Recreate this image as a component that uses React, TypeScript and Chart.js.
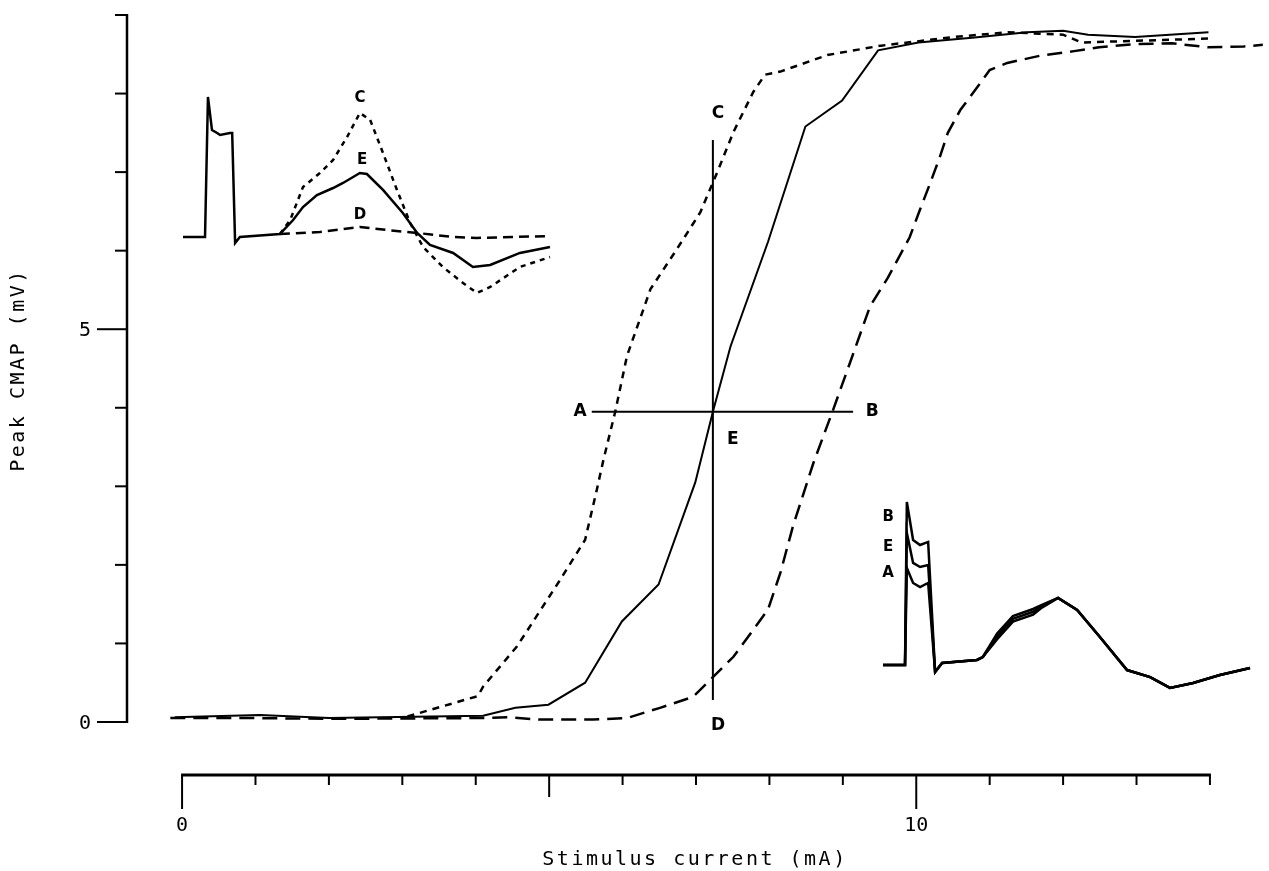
import React, { useEffect, useRef } from "react";
import { Chart, registerables } from "chart.js";

Chart.register(...registerables);

// ---------- Main recruitment curves (x: stimulus current mA, y: peak CMAP mV) ----------
const E_X = [-0.1, 1.06, 2.0, 4.1, 4.54, 4.99, 5.49, 5.99, 6.49, 6.99, 7.23, 7.47, 7.98, 8.49, 8.99, 9.48, 10.03, 10.76, 11.51, 12.0, 12.34, 12.98, 13.98];
const E_Y = [0.06, 0.09, 0.05, 0.08, 0.18, 0.22, 0.5, 1.28, 1.75, 3.05, 3.95, 4.78, 6.11, 7.58, 7.91, 8.55, 8.65, 8.71, 8.78, 8.8, 8.75, 8.72, 8.78];

const C_X = [3.07, 4.03, 4.1, 4.56, 5.15, 5.49, 5.65, 5.74, 5.9, 6.06, 6.38, 6.74, 7.06, 7.29, 7.51, 7.78, 7.94, 8.15, 8.79, 9.52, 10.52, 11.25, 12.0, 12.25, 13.98];
const C_Y = [0.07, 0.33, 0.45, 0.96, 1.81, 2.32, 2.96, 3.34, 3.95, 4.66, 5.51, 6.02, 6.49, 7.0, 7.51, 8.02, 8.24, 8.28, 8.49, 8.61, 8.72, 8.78, 8.75, 8.65, 8.7];

const D_X = [-0.16, 0.93, 2.02, 4.06, 4.43, 4.88, 5.6, 6.06, 6.51, 6.96, 7.23, 7.51, 7.98, 8.15, 8.32, 8.6, 8.87, 9.1, 9.37, 9.61, 9.91, 10.05, 10.19, 10.32, 10.43, 10.6, 10.83, 11.0, 11.24, 11.68, 12.15, 12.49, 12.98, 13.48, 13.97, 14.46, 14.72];
const D_Y = [0.05, 0.05, 0.04, 0.05, 0.06, 0.03, 0.03, 0.05, 0.18, 0.32, 0.57, 0.83, 1.43, 1.9, 2.49, 3.3, 3.98, 4.58, 5.29, 5.65, 6.17, 6.52, 6.86, 7.19, 7.5, 7.79, 8.08, 8.3, 8.39, 8.48, 8.54, 8.59, 8.63, 8.64, 8.59, 8.6, 8.62];

// crosshair through E
const VLINE_X = [7.23, 7.23];
const VLINE_Y = [7.41, 0.28];
const HLINE_X = [5.58, 9.14];
const HLINE_Y = [3.95, 3.95];

// axis ticks
const X_TICKS = [0, 1, 2, 3, 4, 5, 6, 7, 8, 9, 10, 11, 12, 13, 14];
const X_TICK_LABELS = ["0", "", "", "", "", "", "", "", "", "", "10", "", "", "", ""];
const Y_TICKS = [0, 1, 2, 3, 4, 5, 6, 7, 8, 9];
const Y_TICK_LABELS = ["0", "", "", "", "", "5", "", "", "", ""];

// ---------- Inset 1: waveforms at C, E, D (time ms, amplitude arb.) ----------
const IN1_E_T = [0, 0.6, 0.68, 0.79, 0.93, 1.01, 1.28, 1.34, 1.42, 1.55, 2.64, 3.0, 3.27, 3.65, 4.09, 4.36, 4.82, 5.01, 5.45, 5.99, 6.38, 6.73, 7.36, 7.9, 8.37, 9.18, 10.0];
const IN1_E_A = [0, 0, 10.0, 7.64, 7.43, 7.29, 7.43, 7.43, -0.43, 0, 0.21, 1.21, 2.14, 3.0, 3.5, 3.86, 4.57, 4.5, 3.36, 1.71, 0.29, -0.57, -1.14, -2.14, -2.0, -1.14, -0.71];
const IN1_C_T = [2.64, 2.92, 3.27, 3.73, 4.09, 4.47, 4.82, 5.1, 5.45, 5.83, 6.19, 6.54, 7.08, 7.63, 8.01, 8.37, 9.18, 10.0];
const IN1_C_A = [0.21, 1.21, 3.57, 4.57, 5.5, 7.14, 8.86, 8.36, 6.0, 3.36, 1.0, -0.71, -2.14, -3.29, -4.0, -3.57, -2.14, -1.43];
const IN1_D_T = [2.64, 3.73, 4.82, 5.56, 6.38, 7.36, 8.01, 10.0];
const IN1_D_A = [0.21, 0.36, 0.71, 0.5, 0.29, 0.0, -0.07, 0.07];

// ---------- Inset 2: waveforms at B, E, A ----------
const IN2_T = [0, 0.6, 0.65, 0.82, 1.01, 1.23, 1.42, 1.61, 2.56, 2.72, 3.11, 3.54, 4.09, 4.33, 4.77, 5.29, 5.91, 6.65, 7.28, 7.82, 8.45, 9.18, 10.0];
const IN2_B = [0, 0, 11.64, 8.93, 8.57, 8.79, -0.5, 0.14, 0.36, 0.57, 2.25, 3.5, 4.0, 4.3, 4.79, 3.93, 2.0, -0.36, -0.86, -1.64, -1.29, -0.71, -0.21];
const IN2_E = [0, 0, 9.43, 7.29, 7.0, 7.14, -0.5, 0.14, 0.36, 0.57, 2.05, 3.3, 3.8, 4.2, 4.79, 3.93, 2.0, -0.36, -0.86, -1.64, -1.29, -0.71, -0.21];
const IN2_A = [0, 0, 6.93, 5.86, 5.57, 5.86, -0.5, 0.14, 0.36, 0.57, 1.85, 3.1, 3.6, 4.1, 4.79, 3.93, 2.0, -0.36, -0.86, -1.64, -1.29, -0.71, -0.21];

// text labels
const MAIN_LABELS = [
  { t: "A", x: 5.42, y: 3.95 },
  { t: "B", x: 9.4, y: 3.95 },
  { t: "C", x: 7.3, y: 7.74 },
  { t: "D", x: 7.3, y: -0.04 },
  { t: "E", x: 7.5, y: 3.6 },
];
const IN1_LABELS = [
  { t: "C", x: 4.82, y: 9.93 },
  { t: "E", x: 4.88, y: 5.5 },
  { t: "D", x: 4.82, y: 1.57 },
];
const IN2_LABELS = [
  { t: "B", x: 0.14, y: 10.57 },
  { t: "E", x: 0.14, y: 8.43 },
  { t: "A", x: 0.14, y: 6.57 },
];

// ---------- layout ----------
const W = 1269;
const H = 871;
const PAD = { left: 127, top: 15, right: 4, bottom: 96 };
const AREA = { left: PAD.left, right: W - PAD.right, top: PAD.top, bottom: H - PAD.bottom };
function rangeFor(originPx: number, pxPerUnit: number, lo: number, hi: number, invert: boolean) {
  if (!invert) return { min: (lo - originPx) / pxPerUnit, max: (hi - originPx) / pxPerUnit };
  return { min: (originPx - hi) / pxPerUnit, max: (originPx - lo) / pxPerUnit };
}
const IN1X = rangeFor(183, 36.7, AREA.left, AREA.right, false);
const IN1Y = rangeFor(237, 14, AREA.top, AREA.bottom, true);
const IN2X = rangeFor(883, 36.7, AREA.left, AREA.right, false);
const IN2Y = rangeFor(665, 14, AREA.top, AREA.bottom, true);

const XMIN = -0.75;
const XMAX = 14.75;
const YMIN = -0.675;
const YMAX = 9;

const zip = (xs: number[], ys: number[]) => xs.map((x, i) => ({ x, y: ys[i] }));

const FONT_MONO = '"DejaVu Sans Mono", monospace';

const axesPlugin = {
  id: "paperAxes",
  afterDatasetsDraw(chart: any) {
    const ctx = chart.ctx as CanvasRenderingContext2D;
    const xs = chart.scales.x;
    const ys = chart.scales.y;
    ctx.save();
    ctx.strokeStyle = "#000";
    ctx.fillStyle = "#000";
    ctx.lineCap = "butt";

    // Y axis
    const yAxisX = xs.getPixelForValue(XMIN);
    ctx.lineWidth = 2.5;
    ctx.beginPath();
    ctx.moveTo(yAxisX, ys.getPixelForValue(0) + 1);
    ctx.lineTo(yAxisX, ys.getPixelForValue(9) - 1);
    ctx.stroke();
    ctx.lineWidth = 2;
    Y_TICKS.forEach((v, i) => {
      const py = ys.getPixelForValue(v);
      const len = Y_TICK_LABELS[i] ? 30 : 12;
      ctx.beginPath();
      ctx.moveTo(yAxisX, py);
      ctx.lineTo(yAxisX - len, py);
      ctx.stroke();
    });
    ctx.font = `20px ${FONT_MONO}`;
    ctx.textAlign = "center";
    ctx.textBaseline = "middle";
    Y_TICKS.forEach((v, i) => {
      if (Y_TICK_LABELS[i]) ctx.fillText(Y_TICK_LABELS[i], yAxisX - 42, ys.getPixelForValue(v) + 2);
    });

    // X axis
    const xAxisY = ys.getPixelForValue(YMIN);
    ctx.lineWidth = 3;
    ctx.beginPath();
    ctx.moveTo(xs.getPixelForValue(0) - 1, xAxisY);
    ctx.lineTo(xs.getPixelForValue(14) + 1, xAxisY);
    ctx.stroke();
    ctx.lineWidth = 2;
    X_TICKS.forEach((v, i) => {
      const px = xs.getPixelForValue(v);
      const len = X_TICK_LABELS[i] ? 34 : v === 5 ? 22 : 10;
      ctx.beginPath();
      ctx.moveTo(px, xAxisY);
      ctx.lineTo(px, xAxisY + len);
      ctx.stroke();
    });
    X_TICKS.forEach((v, i) => {
      if (X_TICK_LABELS[i]) ctx.fillText(X_TICK_LABELS[i], xs.getPixelForValue(v), xAxisY + 51);
    });

    // titles
    (ctx as any).letterSpacing = "2.5px";
    ctx.font = `20px ${FONT_MONO}`;
    ctx.fillText("Stimulus current (mA)", 695, 860);
    ctx.save();
    ctx.translate(19, 370);
    ctx.rotate(-Math.PI / 2);
    ctx.fillText("Peak CMAP (mV)", 0, 0);
    ctx.restore();
    (ctx as any).letterSpacing = "0px";

    // point labels
    ctx.font = `bold 17px "DejaVu Sans", sans-serif`;
    const drawLabels = (labels: { t: string; x: number; y: number }[], sx: any, sy: any) => {
      labels.forEach((l) => ctx.fillText(l.t, sx.getPixelForValue(l.x), sy.getPixelForValue(l.y)));
    };
    drawLabels(MAIN_LABELS, xs, ys);
    ctx.font = `bold 15px "DejaVu Sans", sans-serif`;
    drawLabels(IN1_LABELS, chart.scales.x2, chart.scales.y2);
    drawLabels(IN2_LABELS, chart.scales.x3, chart.scales.y3);
    ctx.restore();
  },
};

export default function App() {
  const ref = useRef<HTMLCanvasElement | null>(null);
  useEffect(() => {
    if (!ref.current) return;
    const line = (data: any[], extra: any) => ({
      data,
      showLine: true,
      borderColor: "#000",
      backgroundColor: "#000",
      pointRadius: 0,
      borderWidth: 2,
      tension: 0,
      fill: false,
      ...extra,
    });
    const chart = new Chart(ref.current, {
      type: "scatter",
      data: {
        datasets: [
          line(zip(E_X, E_Y), { label: "E", borderWidth: 2 }),
          line(zip(C_X, C_Y), { label: "C", borderDash: [7, 6], borderWidth: 2.5 }),
          line(zip(D_X, D_Y), { label: "D", borderDash: [15, 8], borderWidth: 2.5 }),
          line(zip(VLINE_X, VLINE_Y), { label: "CD", borderWidth: 2 }),
          line(zip(HLINE_X, HLINE_Y), { label: "AB", borderWidth: 2 }),
          line(zip(IN1_E_T, IN1_E_A), { label: "in1E", xAxisID: "x2", yAxisID: "y2", borderWidth: 2.5 }),
          line(zip(IN1_C_T, IN1_C_A), { label: "in1C", xAxisID: "x2", yAxisID: "y2", borderDash: [5, 5], borderWidth: 2.5 }),
          line(zip(IN1_D_T, IN1_D_A), { label: "in1D", xAxisID: "x2", yAxisID: "y2", borderDash: [10, 6], borderWidth: 2.5 }),
          line(zip(IN2_T, IN2_B), { label: "in2B", xAxisID: "x3", yAxisID: "y3", borderWidth: 2.5 }),
          line(zip(IN2_T, IN2_E), { label: "in2E", xAxisID: "x3", yAxisID: "y3", borderWidth: 2.5 }),
          line(zip(IN2_T, IN2_A), { label: "in2A", xAxisID: "x3", yAxisID: "y3", borderWidth: 2.5 }),
        ],
      },
      options: {
        animation: false,
        responsive: false,
        maintainAspectRatio: false,
        layout: { padding: PAD },
        plugins: { legend: { display: false }, tooltip: { enabled: false } },
        scales: {
          x: { type: "linear", display: false, min: XMIN, max: XMAX },
          y: { type: "linear", display: false, min: YMIN, max: YMAX },
          x2: { type: "linear", display: false, min: IN1X.min, max: IN1X.max },
          y2: { type: "linear", display: false, min: IN1Y.min, max: IN1Y.max },
          x3: { type: "linear", display: false, min: IN2X.min, max: IN2X.max },
          y3: { type: "linear", display: false, min: IN2Y.min, max: IN2Y.max },
        },
      } as any,
      plugins: [axesPlugin],
    });
    return () => chart.destroy();
  }, []);
  return (
    <div style={{ position: "fixed", left: 0, top: 0, width: W, height: H, background: "#fff" }}>
      <canvas ref={ref} width={W} height={H} style={{ display: "block", width: W, height: H }} />
    </div>
  );
}
